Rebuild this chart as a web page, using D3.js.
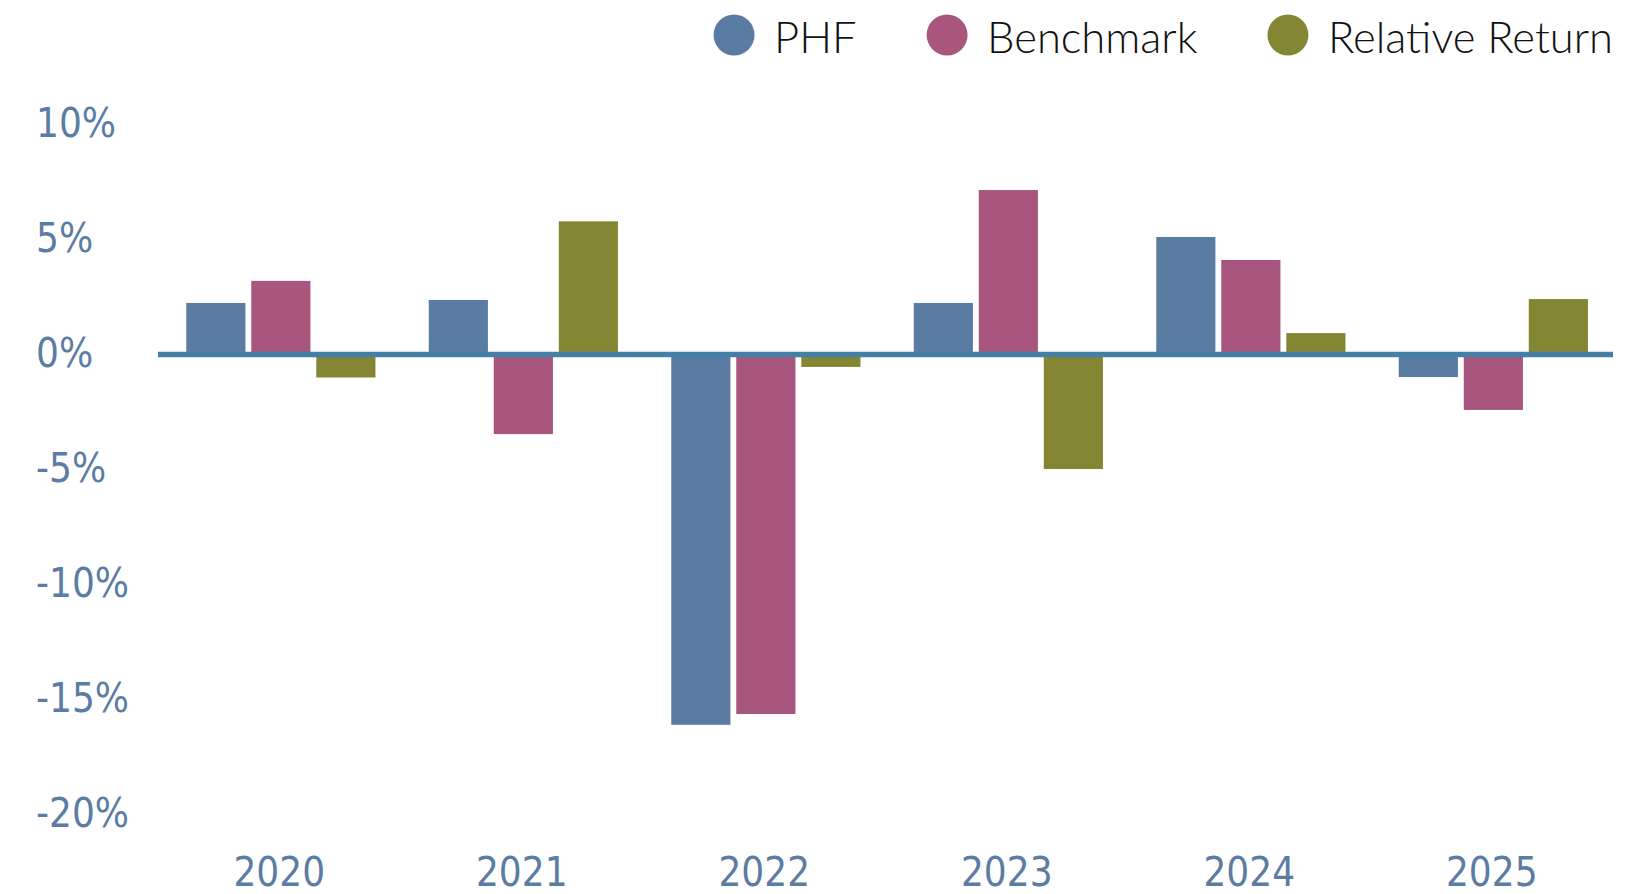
<!DOCTYPE html>
<html>
<head>
<meta charset="utf-8">
<script src="https://cdn.jsdelivr.net/npm/d3@7"></script>
<style>
  html, body { margin: 0; padding: 0; background: #fff; }
  svg { display: block; }
</style>
</head>
<body>
<div id="chart"></div>
<script>
const years = ["2020", "2021", "2022", "2023", "2024", "2025"];
const seriesNames = ["PHF", "Benchmark", "Relative Return"];
const phf = [2.24, 2.37, -16.1, 2.24, 5.11, -0.98];
const benchmark = [3.2, -3.46, -15.63, 7.15, 4.11, -2.41];
const relativeReturn = [-1.0, 5.79, -0.54, -4.98, 0.93, 2.41];
const yTicks = [10, 5, 0, -5, -10, -15, -20];

const colors = ["#5a7ca2", "#a8567d", "#848634"];
const labelColor = "#5b7ca3";
const zeroLineColor = "#447fa6";
const axisFont = "'Liberation Sans Narrow', 'DejaVu Sans Condensed', sans-serif";
const legendFont = "Lato, 'Open Sans', sans-serif";

const width = 1629;
const height = 894;

const svg = d3.select("#chart")
    .append("svg")
    .attr("width", width)
    .attr("height", height);

const values = [phf, benchmark, relativeReturn];
const rows = years.map((year, i) => ({
    year: year,
    bars: seriesNames.map((name, s) => ({ name: name, s: s, value: values[s][i] }))
}));

const x0 = d3.scaleBand()
    .domain(years)
    .range([158, 1613]);

const x1 = d3.scaleBand()
    .domain(seriesNames)
    .range([0, x0.bandwidth()])
    .paddingInner(0.09)
    .paddingOuter(0.41)
    .align(0.53);

const y = d3.scaleLinear()
    .domain([-20, 10])
    .range([814.5, 124.5]);

// y axis labels (no line, no ticks)
const yAxis = svg.append("g")
    .attr("transform", "translate(36,0)")
    .call(d3.axisLeft(y).tickValues(yTicks).tickSize(0).tickPadding(0).tickFormat(d => d + "%"));
yAxis.select(".domain").remove();
yAxis.selectAll("text")
    .attr("text-anchor", "start")
    .attr("x", 0)
    .attr("dy", "0.3em")
    .attr("fill", labelColor)
    .style("font-family", axisFont)
    .style("font-size", "40px");

// x axis labels
const xAxis = svg.append("g")
    .attr("transform", "translate(0,858)")
    .call(d3.axisBottom(x0).tickSize(0).tickPadding(0));
xAxis.select(".domain").remove();
xAxis.selectAll("text")
    .attr("fill", labelColor)
    .style("font-family", axisFont)
    .style("font-size", "40px");

// bars
const groups = svg.append("g")
    .selectAll("g")
    .data(rows)
    .enter()
    .append("g")
    .attr("transform", d => `translate(${x0(d.year)},0)`);

groups.selectAll("rect")
    .data(d => d.bars)
    .enter()
    .append("rect")
    .attr("x", d => x1(d.name))
    .attr("width", x1.bandwidth())
    .attr("y", d => y(Math.max(0, d.value)))
    .attr("height", d => Math.abs(y(d.value) - y(0)))
    .attr("fill", d => colors[d.s]);

// zero line
svg.append("line")
    .attr("x1", x0.range()[0])
    .attr("x2", x0.range()[1])
    .attr("y1", y(0))
    .attr("y2", y(0))
    .attr("stroke", zeroLineColor)
    .attr("stroke-width", 5.5);

// legend, laid out from the right edge
const legend = svg.append("g");
const legendRight = 1613;
const legendGap = 70;
const circleR = 20.5;
const textOffset = 40;
let cursor = legendRight;
const items = seriesNames.map((name, s) => {
    const g = legend.append("g");
    g.append("circle")
        .attr("r", circleR)
        .attr("cy", 35)
        .attr("fill", colors[s]);
    const t = g.append("text")
        .attr("x", textOffset)
        .attr("y", 53)
        .attr("fill", "#111")
        .style("font-family", legendFont)
        .style("font-weight", 300)
        .style("font-size", "43.5px")
        .text(name);
    return { g: g, w: t.node().getComputedTextLength() };
});
for (let i = items.length - 1; i >= 0; i--) {
    const it = items[i];
    const cx = cursor - it.w - textOffset;
    it.g.attr("transform", `translate(${cx},0)`);
    cursor = cx - circleR - legendGap;
}
</script>
</body>
</html>
